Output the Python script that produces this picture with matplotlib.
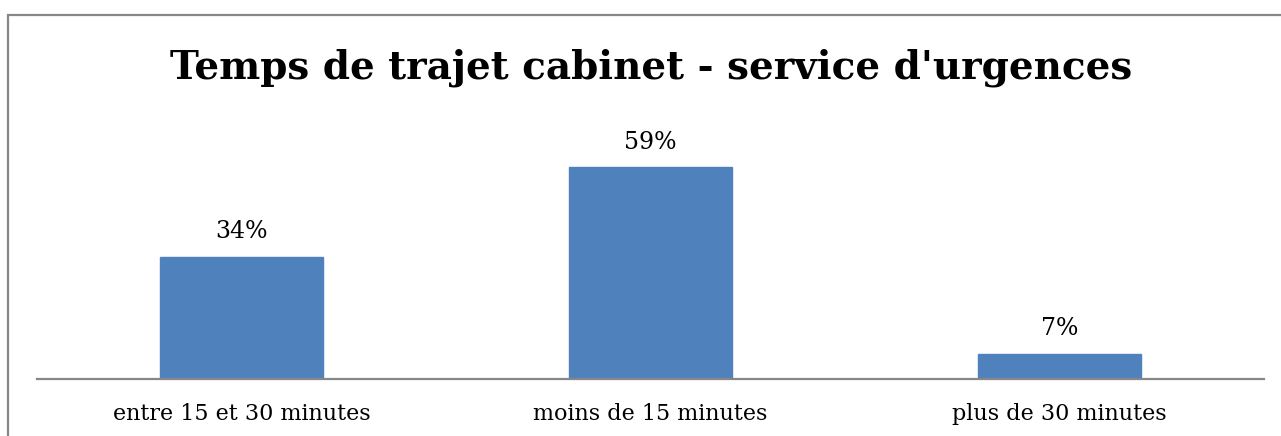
import matplotlib
matplotlib.use("Agg")
import matplotlib.pyplot as plt
from matplotlib.patches import Rectangle

categories = ["entre 15 et 30 minutes", "moins de 15 minutes", "plus de 30 minutes"]
values = [34, 59, 7]
labels = ["34%", "59%", "7%"]
title = "Temps de trajet cabinet - service d'urgences"

W, H = 1281, 436
fig = plt.figure(figsize=(W / 100, H / 100), dpi=100)
fig.patch.set_facecolor("white")

# outer chart border (cropped at right and bottom)
fig.patches.append(Rectangle((8 / W, -0.1), 1.2, (H - 15) / H + 0.1,
                             transform=fig.transFigure, fill=False,
                             edgecolor="#878787", linewidth=1.6, zorder=0))

ax = fig.add_axes([37 / W, (H - 379) / H, (1264 - 37) / W, (379 - 128) / H])
x = list(range(len(categories)))
ax.bar(x, values, width=0.4, color="#4F81BD", edgecolor="#4F81BD", zorder=2)
ax.set_xlim(-0.5, len(categories) - 0.5)
ax.set_ylim(0, 70)

for xi, v, lab in zip(x, values, labels):
    ax.annotate(lab, (xi, v), xytext=(0, 10), textcoords="offset points",
                ha="center", va="bottom", fontsize=17, family="DejaVu Serif",
                color="black")

for s in ["top", "right", "left"]:
    ax.spines[s].set_visible(False)
ax.spines["bottom"].set_color("#878787")
ax.spines["bottom"].set_linewidth(1.6)
ax.set_yticks([])
ax.set_xticks(x)
ax.set_xticklabels(categories, fontsize=16, family="DejaVu Serif")
ax.tick_params(axis="x", length=0, pad=17)

fig.text(651 / W, 1 - 68 / H, title, ha="center", va="center",
         fontsize=28, fontweight="bold", family="DejaVu Serif")

fig.savefig("out.png", dpi=100)
